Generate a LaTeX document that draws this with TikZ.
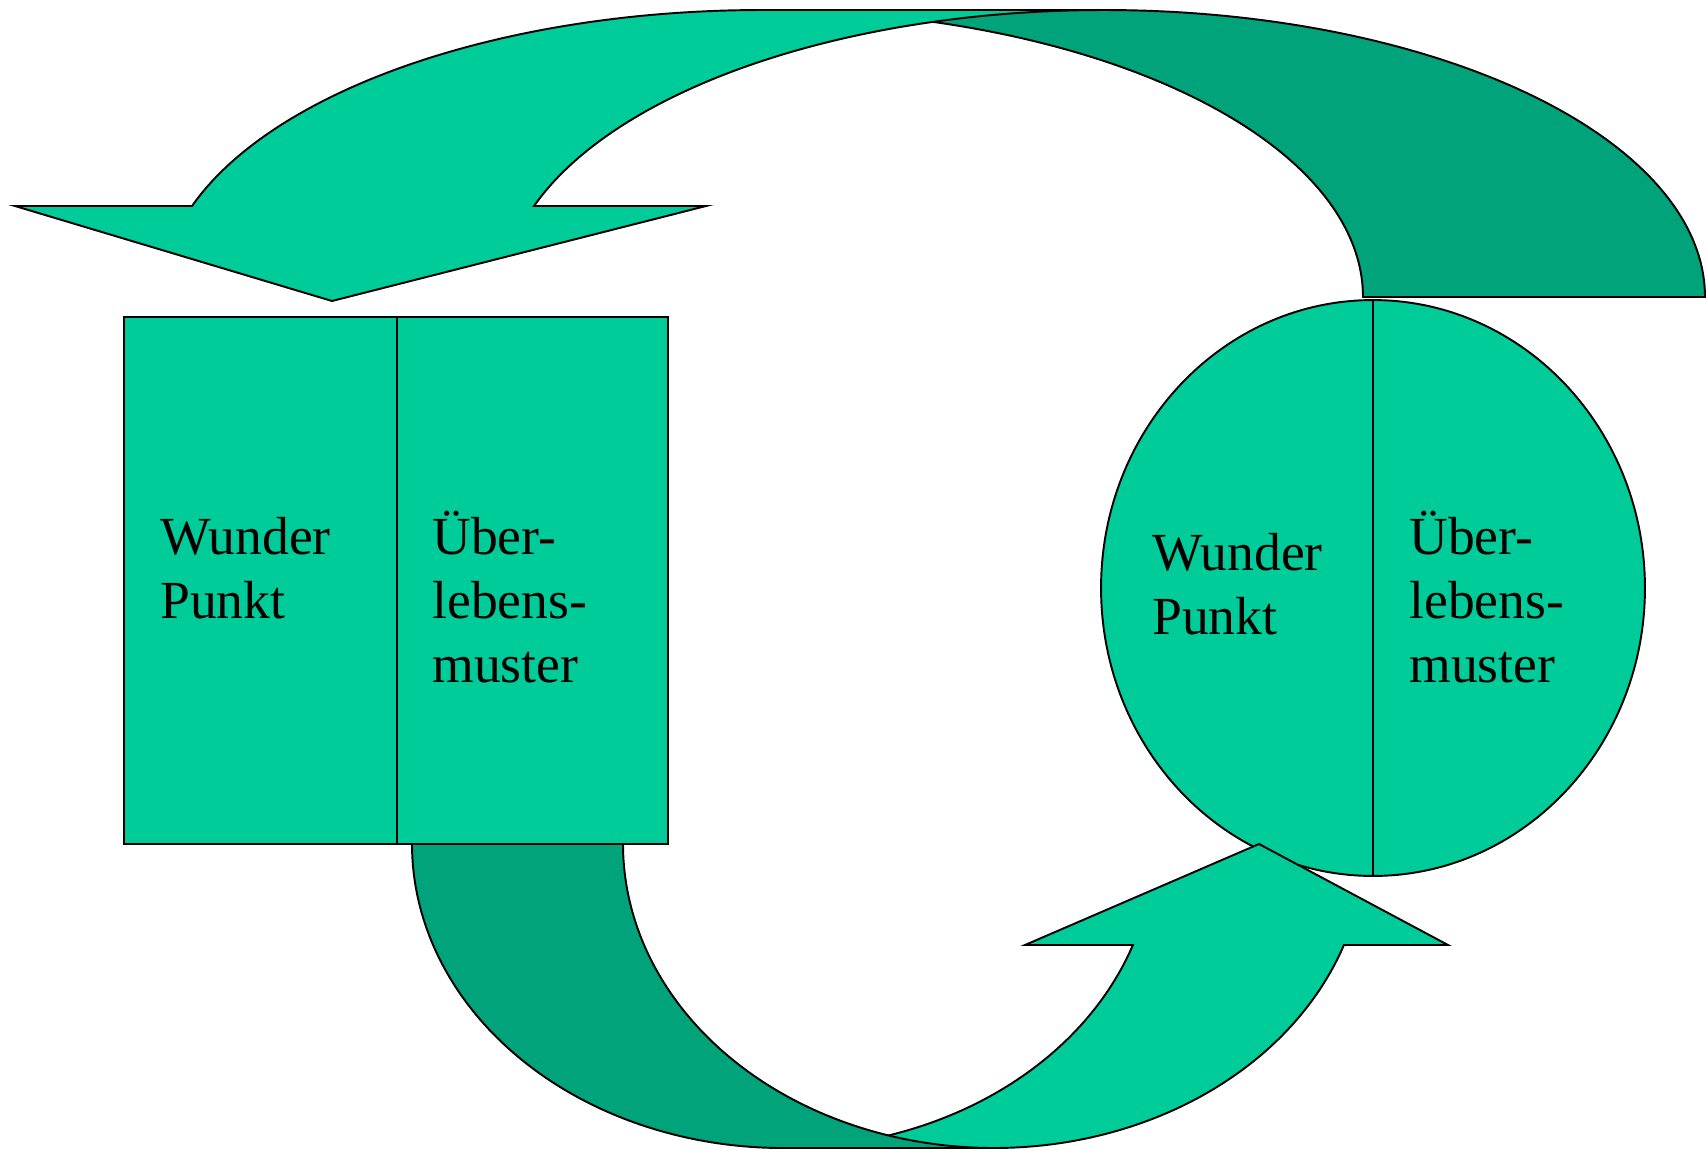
\documentclass[tikz,border=0pt]{standalone}
\usepackage{fontspec}
\setmainfont{Liberation Serif}
\definecolor{lightgreen}{RGB}{0,204,153}
\definecolor{darkgreen}{RGB}{0,163,122}
\tikzset{
  lightshape/.style={fill=lightgreen, draw=black, line width=1.1pt, line join=miter},
  darkshape/.style={fill=darkgreen, draw=black, line width=1.1pt, line join=miter},
  divider/.style={draw=black, line width=1.1pt},
  boxtext/.style={anchor=base west, inner sep=0pt, align=left, font=\fontsize{30.5}{36.4}\selectfont},
  ell/.style={samples=90, variable=\t}
}
\begin{document}
\begin{tikzpicture}[x=0.02cm, y=-0.02cm]
\useasboundingbox (0,0) rectangle (1706,1150);

% left rectangle
\draw[lightshape] (124,317) rectangle (668,844);
\coordinate (rtop) at (397,317);
\coordinate (rbot) at (397,844);
\draw[divider] (rtop) -- (rbot);

% right ellipse
\draw[lightshape] (1373,588) ellipse [x radius=5.44cm, y radius=5.76cm];
\coordinate (etop) at (1373,300);
\coordinate (ebot) at (1373,876);
\draw[divider] (etop) -- (ebot);

% top curved arrow: dark back band first
\draw[darkshape] (1362,297) -- (1705,297)
  -- plot[ell, domain=0:-90] ({1104+601*cos(\t)},{297+287*sin(\t)})
  -- (762,10)
  -- plot[ell, domain=-90:0] ({762+601*cos(\t)},{297+287*sin(\t)})
  -- cycle;
% top curved arrow: light front band with head
\draw[lightshape] (15,206)
  -- plot[ell, domain=198.49:270] ({762+601*cos(\t)},{297+287*sin(\t)})
  -- (1104,10)
  -- plot[ell, domain=270:198.49] ({1104+601*cos(\t)},{297+287*sin(\t)})
  -- (706,206) -- (332,301) -- cycle;

% bottom curved arrow: light band with head first
\draw[lightshape] (1025,945)
  -- plot[ell, domain=19.40:90] ({783+371*cos(\t)},{844+304*sin(\t)})
  -- (994,1148)
  -- plot[ell, domain=90:19.40] ({994+371*cos(\t)},{844+304*sin(\t)})
  -- (1448,945) -- (1259,844) -- cycle;
% bottom curved arrow: dark band on top
\draw[darkshape] plot[ell, domain=180:90] ({783+371*cos(\t)},{844+304*sin(\t)})
  -- plot[ell, domain=90:180] ({994+371*cos(\t)},{844+304*sin(\t)})
  -- cycle;

% texts (anchor is the baseline of the last line)
\node[boxtext] (wl) at (160,618) {Wunder\\Punkt};
\node[boxtext] (ul) at (432,682) {Über-\\lebens-\\muster};
\node[boxtext] (wr) at (1152,634) {Wunder\\Punkt};
\node[boxtext] (ur) at (1409,682) {Über-\\lebens-\\muster};
\end{tikzpicture}
\end{document}
